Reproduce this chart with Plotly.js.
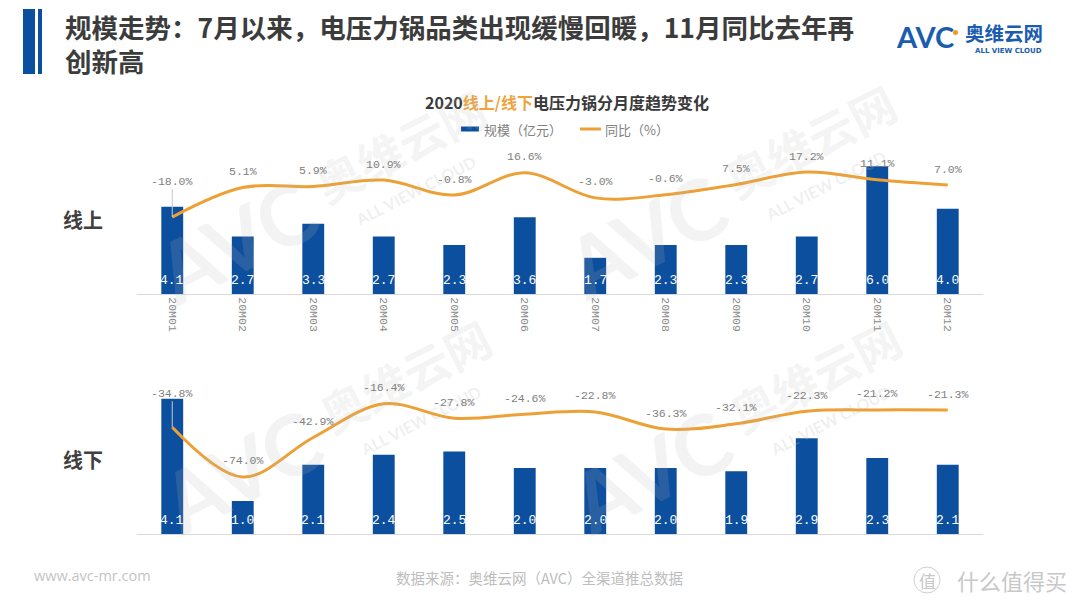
<!DOCTYPE html>
<html>
<head>
<meta charset="utf-8">
<script src="https://cdn.plot.ly/plotly-3.0.1.min.js"></script>
<style>
  html, body { margin: 0; padding: 0; background: #ffffff; }
  #chart { width: 1080px; height: 608px; }
</style>
</head>
<body>
<div id="chart"></div>
<script>
// ---- data ----
const months = ['20M01','20M02','20M03','20M04','20M05','20M06','20M07','20M08','20M09','20M10','20M11','20M12'];
const onlineScale = [4.1, 2.7, 3.3, 2.7, 2.3, 3.6, 1.7, 2.3, 2.3, 2.7, 6.0, 4.0];
const onlineYoY = [-18.0, 5.1, 5.9, 10.9, -0.8, 16.6, -3.0, -0.6, 7.5, 17.2, 11.1, 7.0];
const offlineScale = [4.1, 1.0, 2.1, 2.4, 2.5, 2.0, 2.0, 2.0, 1.9, 2.9, 2.3, 2.1];
const offlineYoY = [-34.8, -74.0, -42.9, -16.4, -27.8, -24.6, -22.8, -36.3, -32.1, -22.3, -21.2, -21.3];
const seriesNames = ['规模（亿元）', '同比（%）'];
const rowLabels = ['线上', '线下'];
const titleLines = ['规模走势：7月以来，电压力锅品类出现缓慢回暖，11月同比去年再', '创新高'];
const chartTitle = '2020<span style="color:#eea43c">线上/线下</span>电压力锅分月度趋势变化';
const sourceText = '数据来源：奥维云网（AVC）全渠道推总数据';
const siteText = 'www.avc-mr.com';

// ---- styles ----
const W = 1080, H = 608;
const px = x => x / W;
const py = y => 1 - y / H;
const BLUE = '#0c4f9e';
const ORANGE = '#eca035';
const CJK = '"Noto Sans CJK SC", "Noto Sans", sans-serif';
const MONO = '"Liberation Mono", "DejaVu Sans Mono", monospace';
const xDomain = [px(137), px(983)];

const traces = [
  { type: 'bar', x: months, y: onlineScale, xaxis: 'x', yaxis: 'y',
    marker: { color: BLUE }, width: 0.31, name: seriesNames[0], hoverinfo: 'skip' },
  { type: 'scatter', mode: 'lines', x: months, y: onlineYoY, xaxis: 'x', yaxis: 'y2',
    line: { color: ORANGE, width: 3, shape: 'spline', smoothing: 1 }, name: seriesNames[1], hoverinfo: 'skip' },
  { type: 'bar', x: months, y: offlineScale, xaxis: 'x2', yaxis: 'y3',
    marker: { color: BLUE }, width: 0.31, name: seriesNames[0], hoverinfo: 'skip' },
  { type: 'scatter', mode: 'lines', x: months, y: offlineYoY, xaxis: 'x2', yaxis: 'y4',
    line: { color: ORANGE, width: 3, shape: 'spline', smoothing: 1 }, name: seriesNames[1], hoverinfo: 'skip' }
];

const annotations = [];

// paper-positioned text helper (explicit anchors)
function paperText(x, y, text, font, xanchor, extra) {
  annotations.push(Object.assign({
    x: px(x), y: py(y), xref: 'paper', yref: 'paper', showarrow: false,
    xanchor: xanchor || 'center', yanchor: 'middle', text: text, font: font
  }, extra || {}));
}

// watermarks (faint, drawn first so labels sit on top)
const wmColor = 'rgba(185,185,185,0.17)';
const wm = [[235, 240], [645, 235], [240, 470], [650, 470]];
wm.forEach(([x, y]) => {
  paperText(x, y, '<b>AVC</b>', { family: 'Lato, sans-serif', size: 84, color: wmColor }, 'center', { textangle: -27 });
  paperText(x + 165, y - 95, '<b>奥维云网</b>', { family: CJK, size: 46, color: wmColor }, 'center', { textangle: -27 });
  paperText(x + 180, y - 50, '<b>ALL VIEW CLOUD</b>', { family: 'Lato, sans-serif', size: 16, color: 'rgba(185,185,185,0.22)' }, 'center', { textangle: -27 });
});

function addSeriesLabels(scale, yoy, xr, yBar, yLine, barShift, leadOffset) {
  months.forEach((m, i) => {
    annotations.push({
      x: m, y: 0, xref: xr, yref: yBar, text: scale[i].toFixed(1), showarrow: false,
      xanchor: 'center', yanchor: 'middle', yshift: barShift,
      font: { family: MONO, size: 13, color: '#ffffff' }
    });
    const pct = yoy[i].toFixed(1) + '%';
    if (i === 0) {
      annotations.push({
        x: m, y: yoy[i], xref: xr, yref: yLine, text: pct, showarrow: true,
        ax: 0, ay: -leadOffset, arrowhead: 0, arrowwidth: 1, arrowcolor: '#c8c8c8', standoff: 0,
        font: { family: MONO, size: 11.5, color: '#808080' }
      });
    } else {
      annotations.push({
        x: m, y: yoy[i], xref: xr, yref: yLine, text: pct, showarrow: false,
        xanchor: 'center', yanchor: 'middle', yshift: 16,
        font: { family: MONO, size: 11.5, color: '#808080' }
      });
    }
  });
}
addSeriesLabels(onlineScale, onlineYoY, 'x', 'y', 'y2', 14, 36);
addSeriesLabels(offlineScale, offlineYoY, 'x2', 'y3', 'y4', 13.5, 34);

// header title (two lines in one block)
paperText(63, 43, '<b>' + titleLines[0] + '<br>' + titleLines[1] + '</b>',
  { family: CJK, size: 26.5, color: '#3c3c3c' }, 'left', { align: 'left' });

// logo
paperText(925, 37, '<b>AVC</b>', { family: 'Lato, "DejaVu Sans", sans-serif', size: 29, color: '#1a5cae' });
paperText(1004, 33, '<b>奥维云网</b>', { family: CJK, size: 19.5, color: '#1a5cae' });
paperText(1008, 51, '<b>ALL VIEW CLOUD</b>', { family: '"DejaVu Sans", sans-serif', size: 7, color: '#1a5cae' });

// row labels
paperText(83, 219, '<b>' + rowLabels[0] + '</b>', { family: CJK, size: 20, color: '#404040' });
paperText(83, 459, '<b>' + rowLabels[1] + '</b>', { family: CJK, size: 20, color: '#404040' });

// legend text
paperText(482, 129, seriesNames[0], { family: CJK, size: 13, color: '#808080' }, 'left');
paperText(603, 129, seriesNames[1], { family: CJK, size: 13, color: '#808080' }, 'left');

// footer
paperText(32, 575, siteText, { family: '"Open Sans", sans-serif', size: 14.5, color: '#c4c4c4' }, 'left');
paperText(539, 577, sourceText, { family: CJK, size: 14.5, color: '#bdbdbd' });
paperText(927, 580, '值', { family: CJK, size: 17, color: '#c8c8c8' });
paperText(1012, 580, '什么值得买', { family: CJK, size: 22, color: '#c8c8c8' });

const shapes = [
  { type: 'rect', xref: 'paper', yref: 'paper', x0: px(23), x1: px(35), y0: py(74), y1: py(9), fillcolor: BLUE, line: { width: 0 } },
  { type: 'rect', xref: 'paper', yref: 'paper', x0: px(38), x1: px(42), y0: py(74), y1: py(9), fillcolor: BLUE, line: { width: 0 } },
  // legend symbols
  { type: 'rect', xref: 'paper', yref: 'paper', x0: px(461), x1: px(479), y0: py(131.5), y1: py(126.5), fillcolor: BLUE, line: { width: 0 } },
  { type: 'line', xref: 'paper', yref: 'paper', x0: px(580), x1: px(601), y0: py(129), y1: py(129), line: { color: ORANGE, width: 3 } },
  // logo dot
  { type: 'circle', xref: 'paper', yref: 'paper', x0: px(953), x1: px(958), y0: py(35), y1: py(30), fillcolor: '#f39a1e', line: { width: 0 } },
  // smzdm ring
  { type: 'circle', xref: 'paper', yref: 'paper', x0: px(914), x1: px(940), y0: py(593), y1: py(567), line: { color: '#d0d0d0', width: 1 } }
];

const layout = {
  width: W, height: H,
  margin: { l: 0, r: 0, t: 0, b: 0 },
  paper_bgcolor: '#ffffff', plot_bgcolor: 'rgba(0,0,0,0)',
  showlegend: false,
  title: { text: chartTitle, x: px(567), y: py(103), xanchor: 'center', yanchor: 'middle',
    font: { family: CJK, size: 16, color: '#3a3a3a', weight: 'bold' } },
  xaxis: { domain: xDomain, anchor: 'y', type: 'category', range: [-0.5, 11.5],
    tickangle: 90, tickfont: { family: MONO, size: 11.5, color: '#8a8a8a' },
    showline: true, linecolor: '#d9d9d9', linewidth: 1, showgrid: false, zeroline: false, ticks: '', fixedrange: true },
  yaxis: { domain: [py(294), py(145)], anchor: 'x', range: [0, 7.0], visible: false, fixedrange: true },
  yaxis2: { overlaying: 'y', anchor: 'x', range: [-78.1, 38.3], visible: false, fixedrange: true },
  xaxis2: { domain: xDomain, anchor: 'y3', type: 'category', range: [-0.5, 11.5],
    showticklabels: false, showline: true, linecolor: '#d9d9d9', linewidth: 1, showgrid: false, zeroline: false, ticks: '', fixedrange: true },
  yaxis3: { domain: [py(534), py(380)], anchor: 'x2', range: [0, 4.667], visible: false, fixedrange: true },
  yaxis4: { overlaying: 'y3', anchor: 'x2', range: [-118.9, 2.36], visible: false, fixedrange: true },
  annotations: annotations,
  shapes: shapes
};

Plotly.newPlot('chart', traces, layout, { displayModeBar: false, staticPlot: true });
</script>
</body>
</html>
